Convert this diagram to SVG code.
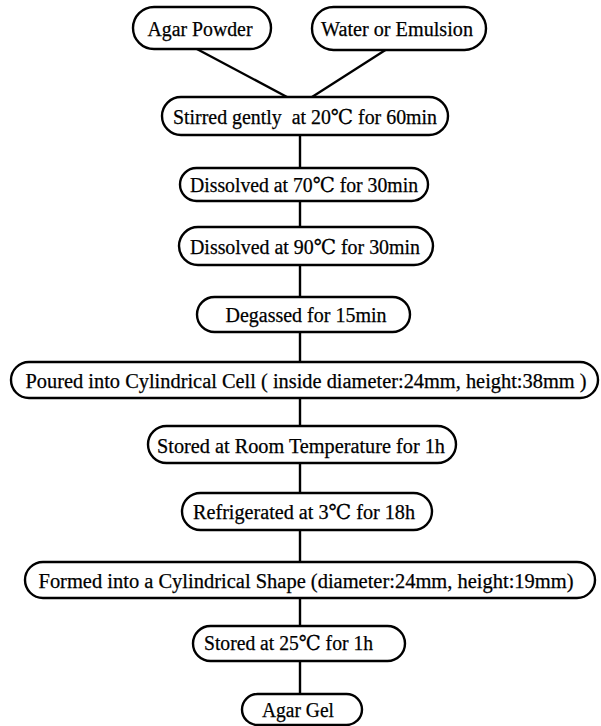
<svg xmlns="http://www.w3.org/2000/svg" width="601" height="726" viewBox="0 0 601 726">
<style>
.box{fill:#fff;stroke:#000;stroke-width:2.4}
.lbl{font-family:"Liberation Serif","DejaVu Serif","Noto Sans CJK JP",serif;font-size:20.5px;fill:#000;stroke:#000;stroke-width:0.25;text-anchor:middle;white-space:pre}
.con{stroke:#000;stroke-width:2.4;fill:none}
</style>
<rect width="601" height="726" fill="#fff"/>
<g id="connectors">
<line class="con" x1="195" y1="48" x2="287" y2="97"/>
<line class="con" x1="387" y1="49" x2="312" y2="97"/>
<line class="con" x1="300" y1="135" x2="300" y2="168"/>
<line class="con" x1="300" y1="201" x2="300" y2="227"/>
<line class="con" x1="300" y1="265" x2="300" y2="297"/>
<line class="con" x1="300" y1="332" x2="300" y2="362"/>
<line class="con" x1="300" y1="398" x2="300" y2="426"/>
<line class="con" x1="300" y1="463" x2="300" y2="493"/>
<line class="con" x1="300" y1="530" x2="300" y2="562"/>
<line class="con" x1="300" y1="598" x2="300" y2="626"/>
<line class="con" x1="300" y1="661" x2="300" y2="694"/>
</g>
<g id="agar-powder"><rect class="box" x="133" y="7" width="138" height="42" rx="21"/><text class="lbl" x="200" y="35.5" textLength="105" lengthAdjust="spacingAndGlyphs">Agar Powder</text></g>
<g id="water"><rect class="box" x="312" y="7" width="174" height="43" rx="21.5"/><text class="lbl" x="397" y="35.5" textLength="152" lengthAdjust="spacingAndGlyphs">Water or Emulsion</text></g>
<g id="stirred"><rect class="box" x="162" y="97" width="286" height="38" rx="19"/><text class="lbl" x="305" y="123.5" textLength="264" lengthAdjust="spacingAndGlyphs" xml:space="preserve">Stirred gently  at 20℃ for 60min</text></g>
<g id="dissolved70"><rect class="box" x="180" y="168" width="248" height="33" rx="16.5"/><text class="lbl" x="304" y="191.5" textLength="228" lengthAdjust="spacingAndGlyphs">Dissolved at 70℃ for 30min</text></g>
<g id="dissolved90"><rect class="box" x="179" y="227" width="254" height="38" rx="19"/><text class="lbl" x="305" y="253.5" textLength="230" lengthAdjust="spacingAndGlyphs">Dissolved at 90℃ for 30min</text></g>
<g id="degassed"><rect class="box" x="197" y="297" width="213" height="35" rx="17.5"/><text class="lbl" x="306" y="321.5" textLength="161" lengthAdjust="spacingAndGlyphs">Degassed for 15min</text></g>
<g id="poured"><rect class="box" x="11" y="362" width="587" height="36" rx="18"/><text class="lbl" x="306" y="387.5" textLength="561" lengthAdjust="spacingAndGlyphs">Poured into Cylindrical Cell ( inside diameter:24mm, height:38mm )</text></g>
<g id="stored-room"><rect class="box" x="148" y="426" width="308" height="37" rx="18.5"/><text class="lbl" x="301" y="452.5" textLength="288" lengthAdjust="spacingAndGlyphs">Stored at Room Temperature for 1h</text></g>
<g id="refrigerated"><rect class="box" x="182" y="493" width="250" height="37" rx="18.5"/><text class="lbl" x="304" y="518.5" textLength="222" lengthAdjust="spacingAndGlyphs">Refrigerated at 3℃ for 18h</text></g>
<g id="formed"><rect class="box" x="25" y="562" width="570" height="36" rx="18"/><text class="lbl" x="306" y="587.5" textLength="535" lengthAdjust="spacingAndGlyphs">Formed into a Cylindrical Shape (diameter:24mm, height:19mm)</text></g>
<g id="stored25"><rect class="box" x="193" y="626" width="212" height="35" rx="17.5"/><text class="lbl" x="288.5" y="650" textLength="169" lengthAdjust="spacingAndGlyphs">Stored at 25℃ for 1h</text></g>
<g id="agar-gel"><rect class="box" x="242" y="694" width="120" height="31" rx="15.5"/><text class="lbl" x="298" y="716.5" textLength="72" lengthAdjust="spacingAndGlyphs">Agar Gel</text></g>
</svg>
